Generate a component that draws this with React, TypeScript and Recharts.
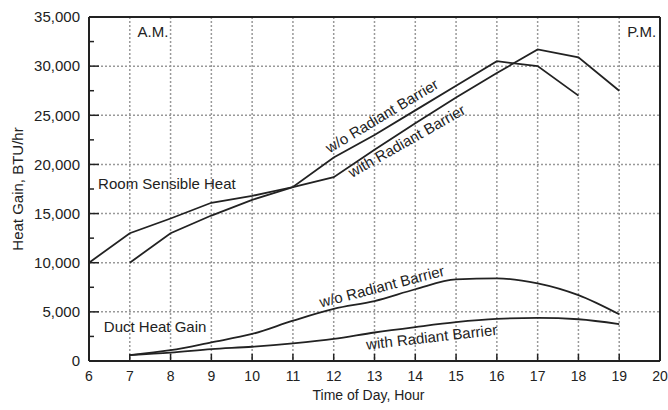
import { CartesianGrid, Line, LineChart, ReferenceDot, XAxis, YAxis } from "recharts";

const hours = [6, 7, 8, 9, 10, 11, 12, 13, 14, 15, 16, 17, 18, 19];
const roomWithout = [10000, 13000, 14500, 16100, 16800, 17700, 20700, 23000, 25500, 28000, 30500, 30000, 27000, null];
const roomWith = [null, 10000, 13000, 14800, 16400, 17700, 18700, 21500, 24200, 26800, 29300, 31700, 30900, 27500];
const ductWithout = [null, 600, 1100, 1900, 2750, 4100, 5300, 6100, 7300, 8300, 8400, 7900, 6700, 4750];
const ductWith = [null, 600, 850, 1200, 1450, 1800, 2250, 2900, 3450, 3950, 4280, 4380, 4250, 3750];

const xTicks = [6, 7, 8, 9, 10, 11, 12, 13, 14, 15, 16, 17, 18, 19, 20];
const yTicks = [0, 2500, 5000, 7500, 10000, 12500, 15000, 17500, 20000, 22500, 25000, 27500, 30000, 32500, 35000];
const gridHours = [7, 8, 9, 10, 11, 12, 13, 14, 15, 16, 17, 18, 19];
const gridValues = [5000, 10000, 15000, 20000, 25000, 30000];

const notes = [
  { text: "A.M.", hour: 7.57, value: 33500, angle: 0 },
  { text: "P.M.", hour: 19.55, value: 33500, angle: 0 },
  { text: "Room Sensible Heat", hour: 7.91, value: 18000, angle: 0 },
  { text: "Duct Heat Gain", hour: 7.62, value: 3450, angle: 0 },
  { text: "w/o Radiant Barrier", hour: 13.18, value: 24950, angle: -31 },
  { text: "with Radiant Barrier", hour: 13.79, value: 22400, angle: -29.5 },
  { text: "w/o Radiant Barrier", hour: 13.18, value: 7600, angle: -14.5 },
  { text: "with Radiant Barrier", hour: 14.4, value: 2450, angle: -6.5 },
];

const data = hours.map((h, i) => ({
  hour: h,
  roomWithout: roomWithout[i],
  roomWith: roomWith[i],
  ductWithout: ductWithout[i],
  ductWith: ductWith[i],
}));

const ink = "#222";
const font = "'Liberation Sans', Arial, sans-serif";

function YTick(props: any) {
  const { x, y, payload } = props;
  const axisX = x + 9;
  const major = payload.value % 5000 === 0;
  return (
    <g>
      <line x1={axisX} x2={axisX + (major ? 10 : 5)} y1={y} y2={y} stroke={ink} strokeWidth={1.5} />
      {major && (
        <text x={x} y={y} dy="0.35em" textAnchor="end" fontSize={15} fill={ink} fontFamily={font}>
          {payload.value.toLocaleString("en-US")}
        </text>
      )}
    </g>
  );
}

function XTick(props: any) {
  const { x, y, payload } = props;
  const axisY = y - 10;
  return (
    <g>
      <line x1={x} x2={x} y1={axisY} y2={axisY - 7} stroke={ink} strokeWidth={1.5} />
      <text x={x} y={y} dy="0.71em" textAnchor="middle" fontSize={14} fill={ink} fontFamily={font}>
        {payload.value}
      </text>
    </g>
  );
}

export default function App() {
  return (
    <div style={{ position: "absolute", left: 0, top: 0, background: "#fff" }}>
      <LineChart width={668} height={410} data={data} margin={{ top: 16, right: 7, bottom: 0, left: 0 }}>
        <CartesianGrid
          horizontalValues={gridValues}
          verticalValues={gridHours}
          stroke="#999"
          strokeWidth={1.5}
          strokeDasharray="2 2"
        />
        <XAxis
          dataKey="hour"
          type="number"
          domain={[6, 20]}
          ticks={xTicks}
          interval={0}
          height={49}
          tickSize={0}
          tickMargin={10}
          tickLine={false}
          tick={<XTick />}
          axisLine={{ stroke: ink, strokeWidth: 2 }}
          label={{
            content: (p: any) => (
              <text
                x={p.viewBox.x + p.viewBox.width / 2 - 6}
                y={p.viewBox.y + 39}
                textAnchor="middle"
                fontSize={14}
                fill={ink}
                fontFamily={font}
              >
                Time of Day, Hour
              </text>
            ),
          }}
        />
        <XAxis
          xAxisId="top"
          orientation="top"
          dataKey="hour"
          type="number"
          domain={[6, 20]}
          height={1}
          tick={false}
          tickLine={false}
          axisLine={{ stroke: ink, strokeWidth: 2 }}
        />
        <YAxis
          type="number"
          domain={[0, 35000]}
          ticks={yTicks}
          interval={0}
          width={89}
          tickSize={0}
          tickMargin={9}
          tickLine={false}
          tick={<YTick />}
          axisLine={{ stroke: ink, strokeWidth: 2 }}
          label={{
            content: (p: any) => {
              const cy = p.viewBox.y + p.viewBox.height / 2;
              return (
                <text
                  x={19}
                  y={cy}
                  transform={`rotate(-90, 19, ${cy})`}
                  textAnchor="middle"
                  dominantBaseline="middle"
                  fontSize={15}
                  fill={ink}
                  fontFamily={font}
                >
                  Heat Gain, BTU/hr
                </text>
              );
            },
          }}
        />
        <YAxis
          yAxisId="right"
          orientation="right"
          type="number"
          domain={[0, 35000]}
          width={1}
          tick={false}
          tickLine={false}
          axisLine={{ stroke: ink, strokeWidth: 2 }}
        />
        <Line type="linear" dataKey="roomWithout" stroke={ink} strokeWidth={1.8} dot={false} isAnimationActive={false} />
        <Line type="linear" dataKey="roomWith" stroke={ink} strokeWidth={1.8} dot={false} isAnimationActive={false} />
        <Line type="monotone" dataKey="ductWithout" stroke={ink} strokeWidth={1.8} dot={false} isAnimationActive={false} />
        <Line type="monotone" dataKey="ductWith" stroke={ink} strokeWidth={1.8} dot={false} isAnimationActive={false} />
        {notes.map((n, i) => (
          <ReferenceDot
            key={`n${i}`}
            x={n.hour}
            y={n.value}
            r={0.01}
            fill="none"
            stroke="none"
            label={{
              value: n.text,
              position: "center",
              angle: n.angle,
              fontSize: 15,
              fill: ink,
              fontFamily: font,
            }}
          />
        ))}
      </LineChart>
    </div>
  );
}
